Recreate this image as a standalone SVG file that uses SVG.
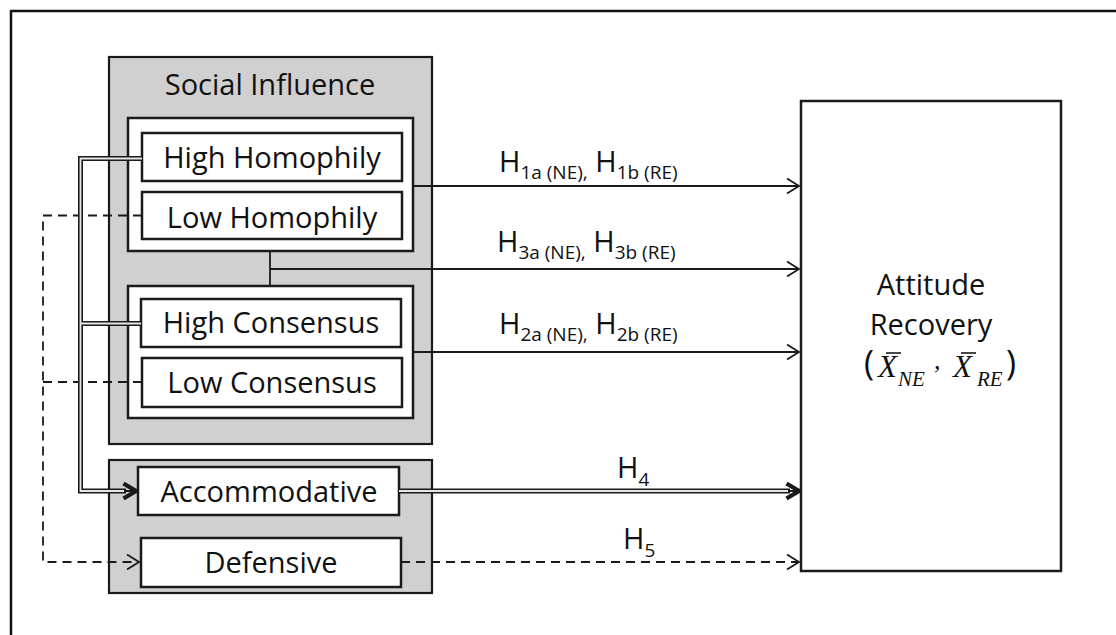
<svg xmlns="http://www.w3.org/2000/svg" width="1116" height="635" viewBox="0 0 1116 635">
<defs>
<style>
.t{font-family:"Open Sans","Liberation Sans",sans-serif;font-size:29px;fill:#111111;text-anchor:middle}
.h{font-family:"Open Sans","Liberation Sans",sans-serif;font-size:29px;fill:#111111}
.s{font-size:19px}
.p{font-family:"Open Sans","Liberation Sans",sans-serif;font-size:34px;fill:#111111}
.grp{fill:#d0d0d0;stroke:#1a1a1a;stroke-width:2.2}
.box{fill:#ffffff;stroke:#1a1a1a;stroke-width:2.5}
.ln{fill:none;stroke:#1a1a1a;stroke-width:1.8}
.dash{fill:none;stroke:#1a1a1a;stroke-width:1.8;stroke-dasharray:9 6}
.dbo{fill:none;stroke:#1a1a1a;stroke-width:5}
.dbi{fill:none;stroke:#e6e6e6;stroke-width:1.8}
.m{font-family:"Liberation Serif",serif;font-style:italic;fill:#111111}
</style>
<marker id="arr" markerWidth="16" markerHeight="18" refX="13" refY="9" orient="auto" markerUnits="userSpaceOnUse">
<path d="M1,1.5 L13,9 L1,16.5" fill="none" stroke="#1a1a1a" stroke-width="1.8"/>
</marker>
<marker id="arrB" markerWidth="18" markerHeight="20" refX="15" refY="10" orient="auto" markerUnits="userSpaceOnUse">
<path d="M2.5,2.5 L15,10 L2.5,17.5" fill="none" stroke="#1a1a1a" stroke-width="4.2"/>
</marker>
</defs>
<rect width="1116" height="635" fill="#ffffff"/>
<path d="M11,635 V11 H1116" fill="none" stroke="#111" stroke-width="2.5"/>

<g id="social-influence">
<rect class="grp" x="109" y="57" width="323" height="387"/>
<text class="t" x="270" y="95">Social Influence</text>
</g>
<g id="homophily-group">
<rect class="box" x="128" y="118" width="285" height="133"/>
</g>
<g id="high-homophily">
<rect class="box" x="142" y="133" width="260" height="48"/>
<text class="t" x="272" y="168">High Homophily</text>
</g>
<g id="low-homophily">
<rect class="box" x="142" y="192" width="260" height="47"/>
<text class="t" x="272" y="228">Low Homophily</text>
</g>
<g id="consensus-group">
<rect class="box" x="128" y="286" width="285" height="132"/>
</g>
<g id="high-consensus">
<rect class="box" x="141" y="299" width="260" height="48"/>
<text class="t" x="271" y="333">High Consensus</text>
</g>
<g id="low-consensus">
<rect class="box" x="142" y="358" width="260" height="49"/>
<text class="t" x="272" y="393">Low Consensus</text>
</g>
<g id="response-group">
<rect class="grp" x="109" y="460" width="323" height="133"/>
</g>
<g id="accommodative">
<rect class="box" x="138" y="467" width="261" height="48"/>
<text class="t" x="269" y="502">Accommodative</text>
</g>
<g id="defensive">
<rect class="box" x="141" y="538" width="260" height="49"/>
<text class="t" x="271" y="573">Defensive</text>
</g>
<g id="attitude-recovery">
<rect class="box" x="801" y="101" width="260" height="470"/>
<text class="t" x="931" y="295">Attitude</text>
<text class="t" x="931" y="335">Recovery</text>
<text class="p" x="864" y="375">(</text>
<text class="m" x="878" y="377" font-size="31">X</text>
<line x1="886" y1="353" x2="901" y2="353" stroke="#1a1a1a" stroke-width="1.6"/>
<text class="m" x="898" y="386" font-size="21">NE</text>
<text class="m" x="934" y="369" font-size="26">,</text>
<text class="m" x="953" y="377" font-size="31">X</text>
<line x1="961" y1="353" x2="976" y2="353" stroke="#1a1a1a" stroke-width="1.6"/>
<text class="m" x="977" y="386" font-size="21">RE</text>
<text class="p" x="1006" y="375">)</text>
</g>

<g id="connectors">
<path class="ln" d="M413,186 H799" marker-end="url(#arr)"/>
<path class="ln" d="M270,251 V286 M270,269 H799" marker-end="url(#arr)"/>
<path class="ln" d="M413,352 H799" marker-end="url(#arr)"/>
<path class="dash" d="M401,562 H799" marker-end="url(#arr)"/>
<path class="dash" d="M142,215.5 H43 V562 H139" marker-end="url(#arr)"/>
<path class="dash" d="M142,382 H43"/>
<path class="dbo" d="M142,158.5 H80.5 V491 H126"/>
<path class="dbo" d="M141,323.5 H80.5"/>
<path class="dbo" d="M399,491 H790"/>
<path class="dbi" d="M142,158.5 H80.5 V491 H126"/>
<path class="dbi" d="M141,323.5 H80.5"/>
<path class="dbi" d="M399,491 H790"/>
<path d="M124,491 H136" fill="none" stroke="#1a1a1a" stroke-width="2" marker-end="url(#arrB)"/>
<path d="M788,491 H799" fill="none" stroke="#1a1a1a" stroke-width="2" marker-end="url(#arrB)"/>
</g>

<g id="labels">
<text class="h" x="499" y="172">H<tspan class="s" dy="7">1a (NE),</tspan><tspan dy="-7"> H</tspan><tspan class="s" dy="7">1b (RE)</tspan></text>
<text class="h" x="497" y="252">H<tspan class="s" dy="7">3a (NE),</tspan><tspan dy="-7"> H</tspan><tspan class="s" dy="7">3b (RE)</tspan></text>
<text class="h" x="499" y="334">H<tspan class="s" dy="7">2a (NE),</tspan><tspan dy="-7"> H</tspan><tspan class="s" dy="7">2b (RE)</tspan></text>
<text class="h" x="617" y="478">H<tspan class="s" dy="8">4</tspan></text>
<text class="h" x="623" y="549">H<tspan class="s" dy="8">5</tspan></text>
</g>
</svg>
